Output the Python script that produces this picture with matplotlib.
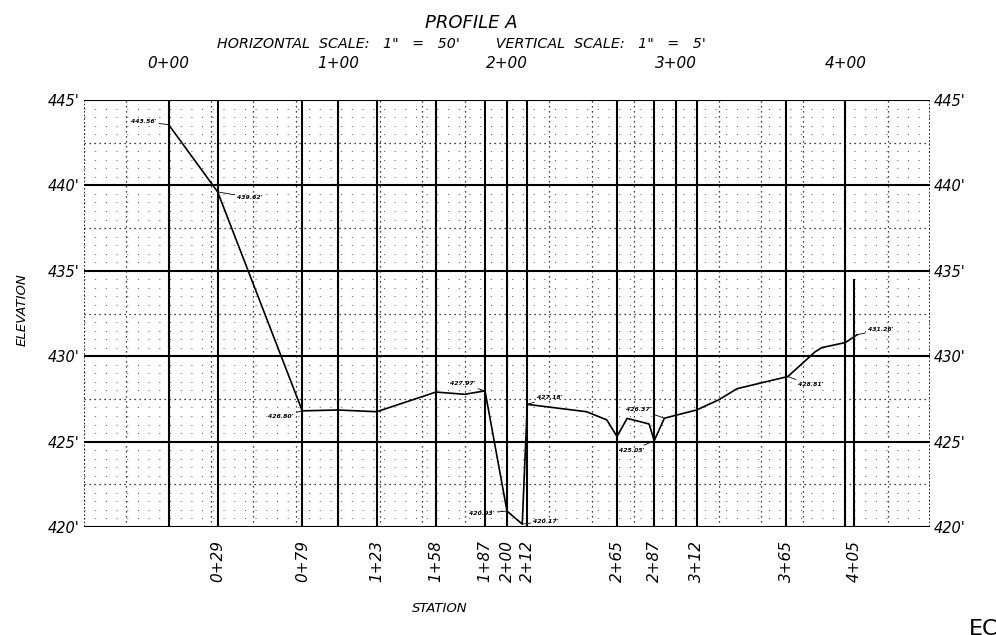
import numpy as np
import matplotlib
matplotlib.use("Agg")
import matplotlib.pyplot as plt

# profile points (station in ft, elevation in ft)
stations = [0, 29, 79, 100, 123, 158, 175, 187, 200, 209, 212, 247, 259, 265,
            271, 284, 287, 293, 312, 325, 336, 366, 382, 386, 400, 407]
elevations = [443.56, 439.62, 426.80, 426.85, 426.75, 427.90, 427.77, 427.97,
              420.93, 420.17, 427.18, 426.75, 426.27, 425.30, 426.36, 426.03,
              425.05, 426.37, 426.85, 427.44, 428.10, 428.81, 430.25, 430.50,
              430.80, 431.26]

# labelled points: (station, elevation, text)
callout_sta = [0, 29, 79, 187, 200, 209, 212, 293, 287, 366, 407]
callout_elev = [443.56, 439.62, 426.80, 427.97, 420.93, 420.17, 427.18,
                426.37, 425.05, 428.81, 431.26]
callout_text = ["443.56'", "439.62'", "426.80'", "427.97'", "420.93'", "420.17'",
                "427.18'", "426.37'", "425.05'", "428.81'", "431.26'"]

key_stations = [0, 29, 79, 100, 123, 158, 187, 200, 212, 265, 287, 300, 312, 365, 400, 405]
bottom_stations = [29, 79, 123, 158, 187, 200, 212, 265, 287, 312, 365, 405]
top_stations = [0, 100, 200, 300, 400]
elev_ticks = [420, 425, 430, 435, 440, 445]


def sta_label(s):
    return f"{s // 100}+{s % 100:02d}"


plt.rcParams['font.family'] = ['DejaVu Sans']
fig = plt.figure(figsize=(9.96, 6.35), dpi=100)
ax = fig.add_axes([84 / 996, 1 - 527 / 635, (930 - 84) / 996, (527 - 100) / 635])
ax.set_xlim(-50, 450)
ax.set_ylim(420, 445)

# fine sparse dotted grid
for e in np.arange(420, 445.01, 0.5):
    if abs(e / 2.5 - round(e / 2.5)) > 1e-6:
        ax.axhline(e, color='0.3', lw=0.7, ls=(0, (1, 10)), zorder=1)
# dotted grid every 25 ft / 2.5 ft
for s in np.arange(-25, 450, 25):
    ax.axvline(s, color='black', lw=0.9, ls=(0, (1, 3)), zorder=1)
for e in np.arange(422.5, 445, 5):
    ax.axhline(e, color='black', lw=0.9, ls=(0, (1, 3)), zorder=1)
# frame
for s in (-50, 450):
    ax.axvline(s, color='black', lw=1.2, ls=(0, (1, 1.2)), zorder=2)
# major lines
for e in elev_ticks:
    ax.axhline(e, color='black', lw=1.5, zorder=2)
for s in key_stations:
    top = 434.5 if s == 405 else 445
    ax.vlines(s, 420, top, color='black', lw=1.5, zorder=2)

ax.plot(stations, elevations, color='black', lw=1.2, zorder=3)

offsets = [(-9, 2), (14, -4), (-6, -4), (-7, 5), (-9, -1.5), (8, 2), (7, 5),
           (-9, 6.5), (-7, -7), (7, -6), (8, 3.5)]
for s, e, t, off in zip(callout_sta, callout_elev, callout_text, offsets):
    ax.annotate(t, xy=(s, e), xytext=off, textcoords='offset points',
                ha='right' if off[0] < 0 else 'left', va='center',
                fontsize=4.4, fontweight='bold', fontstyle='italic',
                arrowprops=dict(arrowstyle='-', lw=0.6, color='black',
                                shrinkA=0, shrinkB=0), zorder=4)

for sp in ax.spines.values():
    sp.set_visible(False)

ax.set_yticks(elev_ticks)
ax.set_yticklabels([f"{e}'" for e in elev_ticks], fontstyle='italic', fontsize=10.5)
ax.tick_params(axis='y', length=0, pad=3, labelleft=True, labelright=True)

ax.set_xticks(bottom_stations)
ax.set_xticklabels([sta_label(s) for s in bottom_stations], rotation=90,
                   fontstyle='italic', fontsize=11)
ax.tick_params(axis='x', length=0, pad=9)

top = ax.secondary_xaxis('top')
top.set_xticks(top_stations)
top.set_xticklabels([sta_label(s) for s in top_stations], fontstyle='italic', fontsize=11)
top.tick_params(length=0, pad=21)
for sp in top.spines.values():
    sp.set_visible(False)

fig.text(471 / 996, 1 - 23 / 635, "PROFILE A", ha='center', va='center',
         fontsize=13, fontstyle='italic')
fig.text(461 / 996, 1 - 44 / 635,
         "HORIZONTAL  SCALE:   1\"   =   50'        VERTICAL  SCALE:   1\"   =   5'",
         ha='center', va='center', fontsize=10.3, fontstyle='italic')
fig.text(22 / 996, 1 - 310 / 635, "ELEVATION", rotation=90, ha='center', va='center',
         fontsize=9.5, fontstyle='italic')
fig.text(440 / 996, 1 - 608 / 635, "STATION", ha='center', va='center',
         fontsize=9.5, fontstyle='italic')
fig.text(969 / 996, 1 - 619 / 635, "EC", ha='left', va='top', fontsize=16)

fig.savefig('out.png', dpi=100)
